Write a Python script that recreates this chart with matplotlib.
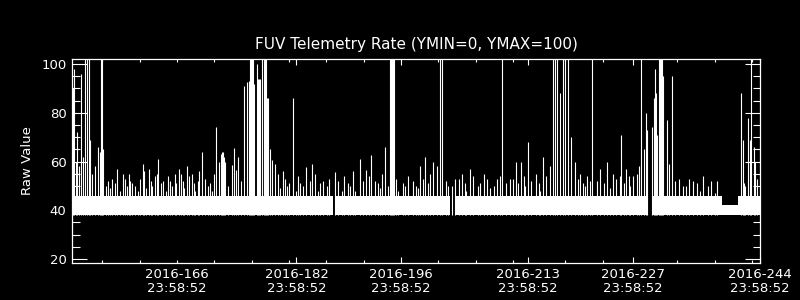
import matplotlib
matplotlib.use("Agg")
import matplotlib.pyplot as plt
from matplotlib.ticker import FixedLocator, MultipleLocator

# ---- data (day of year 2016, fractional) ----
band_start = [152.94, 188.20, 204.36, 230.74, 239.98, 242.12]
band_end = [187.85, 203.50, 229.93, 239.98, 242.12, 245.06]
band_top = [46.0, 46.0, 46.0, 46.0, 42.0, 46.0]
band_bottom = [38.2, 38.2, 38.2, 38.2, 38.2, 38.2]

spike_day = [153.07, 153.21, 153.61, 154.14, 154.68, 154.95, 155.21, 155.35, 156.42, 156.69,
             156.82, 156.95, 157.09, 157.76, 158.96, 159.77, 160.70, 161.37, 162.44, 163.25,
             164.05, 164.45, 165.12, 166.06, 166.73, 167.53, 168.34, 169.01, 169.81, 170.34,
             172.22, 172.62, 172.89, 173.02, 173.16, 173.29, 173.42, 174.36, 174.63, 174.90,
             175.17, 175.97, 176.37, 176.64, 176.77, 176.90, 177.04, 177.17, 177.31, 177.71,
             177.84, 177.98, 178.11, 178.38, 178.65, 178.78, 178.91, 179.05, 179.18, 179.45,
             179.72, 180.12, 180.52, 181.19, 182.53, 183.47, 184.27, 185.07, 186.55, 188.15,
             191.50, 192.30, 192.97, 193.51, 194.85, 195.52, 195.65, 195.79, 195.92, 196.05,
             198.60, 199.54, 200.20, 200.87, 201.27, 201.81, 202.21, 202.48, 204.22, 205.16,
             206.23, 208.10, 209.85, 210.52, 211.59, 212.39, 213.06, 213.99, 215.07, 216.00,
             216.94, 217.34, 217.61, 217.88, 218.28, 218.68, 218.95, 219.35, 219.75, 220.29,
             220.96, 222.30, 222.57, 223.64, 224.57, 225.38, 226.32, 226.45, 227.12, 228.06,
             228.59, 228.86, 229.13, 229.53, 229.80, 229.93, 230.60, 230.87, 231.00, 231.14,
             231.27, 231.54, 231.67, 231.81, 231.94, 232.07, 232.61, 232.88, 233.28, 233.68,
             234.22, 236.09, 238.50, 242.52, 242.79, 243.46, 243.72, 243.86, 244.26, 244.39]
spike_val = [90, 97.8, 72, 96, 110, 110, 110, 69, 66, 64,
             110, 110, 65, 52, 57, 55, 52, 50, 59, 57,
             54, 61, 52, 52, 55, 55, 58, 55, 52, 64,
             74, 60, 63, 64, 64, 62, 60, 58.5, 65.5, 56.5,
             62, 91, 92.5, 93, 110, 110, 110, 110, 92, 100,
             94, 94, 94, 110, 110, 110, 110, 86, 86, 65,
             60.6, 59, 55, 56, 86, 51, 57.7, 59, 52, 55.7,
             61, 56.5, 62.6, 52, 66, 110, 110, 110, 110, 110,
             52, 58, 62, 55, 60, 58, 110, 110, 53, 55,
             57, 55, 53, 110, 53, 60, 60, 68, 55, 62,
             58, 110, 110, 110, 88, 110, 110, 110, 70, 60,
             55, 52, 110, 57, 60, 55, 54, 71, 57, 54,
             55, 58, 110, 65, 80, 73, 74, 86, 98, 88,
             71, 110, 110, 110, 110, 95, 77, 59, 95, 52,
             53, 52, 52, 88, 69, 78, 69, 110, 66, 60]

mid_day = [153.47, 153.87, 154.41, 155.62, 156.02,
           157.49, 158.29, 158.70, 160.03, 160.57, 160.97, 162.04, 162.58, 163.52, 164.32,
           164.85, 165.79, 166.86, 167.27, 167.80, 168.60, 169.27, 169.94, 170.75, 171.42,
           171.95,
           181.46, 181.99, 183.20, 184.81, 185.48, 186.14, 187.35, 188.56, 189.36, 189.89,
           190.56, 191.90, 192.71, 193.91, 194.45, 195.25, 196.32,
           197.26, 197.93, 199.00, 199.94, 200.61, 203.02, 203.82, 204.76, 205.56, 206.63,
           207.57, 208.50, 209.44, 210.25, 211.05, 211.99, 212.66, 213.46, 214.40, 215.47,
           216.41, 220.69, 221.36, 221.90, 223.24, 224.17, 225.78, 226.85, 227.52,
           234.75, 235.56, 236.63, 237.43, 238.10, 239.30, 242.92, 244.66]
mid_val = [60, 58, 62, 55, 58,
           50, 53, 51, 53, 55, 51, 53, 56, 52, 55,
           51, 54, 51, 57, 52, 54, 51, 56, 53, 51,
           55,
           53, 51, 54, 52, 55, 51, 53, 52, 54, 51,
           56, 52, 54, 51, 55, 50, 53,
           51, 54, 50, 53, 51, 52, 50, 53, 51, 54,
           51, 53, 50, 54, 51, 53, 51, 54, 52, 51,
           54, 53, 51, 54, 52, 51, 53, 51, 54,
           50, 53, 51, 54, 50, 52, 51, 53]

fringe_day = [158.03, 159.37, 160.30, 161.77, 162.85, 163.65, 165.52, 166.33, 167.93, 169.41,
              171.15, 171.68, 173.83, 175.57, 180.79, 181.73, 182.93, 183.87, 185.88, 187.08,
              189.09, 190.16, 190.83, 194.18, 196.59, 197.53, 199.27, 203.28, 205.70, 207.30,
              208.91, 213.59, 215.60, 221.63, 224.98, 227.65, 235.15, 237.03, 239.04, 243.05]
fringe_val = [49, 48, 50, 48, 49, 50, 48, 50, 49, 48,
              50, 48, 50, 52, 49, 50, 48, 50, 48, 50,
              48, 50, 48, 49, 48, 50, 49, 50, 48, 50,
              49, 50, 48, 50, 49, 50, 50, 48, 47, 50]

tick_days = [166, 182, 196, 213, 227, 244]
tick_labels = ["2016-166\n23:58:52", "2016-182\n23:58:52", "2016-196\n23:58:52",
               "2016-213\n23:58:52", "2016-227\n23:58:52", "2016-244\n23:58:52"]
minor_days = [156, 161, 171, 176, 181, 186, 191, 201, 206, 211, 218, 223, 233, 238, 243]
day_frac = 86332 / 86400.0

# ---- figure ----
fig = plt.figure(figsize=(8, 3), dpi=100, facecolor="black")
ax = fig.add_axes([0.09, 0.1233, 0.86, 0.68])
ax.set_facecolor("black")

widths = [e - s for s, e in zip(band_start, band_end)]
heights = [t - b for t, b in zip(band_top, band_bottom)]
ax.bar(band_start, heights, width=widths, bottom=band_bottom, align="edge",
       color="white", linewidth=0)
for days, vals in ((spike_day, spike_val), (mid_day, mid_val), (fringe_day, fringe_val)):
    ax.vlines(days, 38.2, vals, colors="white", linewidth=0.8)

ax.set_xlim(152.94, 245.06)
ax.set_ylim(18.36, 102.05)

for s in ax.spines.values():
    s.set_color("white")
    s.set_linewidth(0.9)

ax.xaxis.set_major_locator(FixedLocator([d + day_frac for d in tick_days]))
ax.set_xticklabels(tick_labels)
ax.xaxis.set_minor_locator(FixedLocator([d + day_frac for d in minor_days]))
ax.set_yticks([20, 40, 60, 80, 100])
ax.yaxis.set_minor_locator(MultipleLocator(5))

ax.tick_params(axis="x", which="major", direction="in", length=4.3, width=0.8,
               colors="white", top=True, bottom=True, labelsize=9.5, pad=3.5)
ax.tick_params(axis="x", which="minor", direction="in", length=2.0, width=0.8,
               colors="white", top=True, bottom=True)
ax.tick_params(axis="y", which="major", direction="in", length=10.8, width=0.8,
               colors="white", left=True, right=True, labelsize=9.5, pad=4)
ax.tick_params(axis="y", which="minor", direction="in", length=5.4, width=0.8,
               colors="white", left=True, right=True)
for lab in ax.get_xticklabels():
    lab.set_linespacing(1.1)

# first labelled x tick is a short one in the reference
t0 = ax.xaxis.get_major_ticks()[0]
t0.tick1line.set_markersize(2.0)
t0.tick2line.set_markersize(2.0)

ax.set_ylabel("Raw Value", color="white", fontsize=9.5, labelpad=5)
ax.set_title("FUV Telemetry Rate (YMIN=0, YMAX=100)", color="white", fontsize=11, pad=7)

fig.savefig("out.png", dpi=100, facecolor="black")
